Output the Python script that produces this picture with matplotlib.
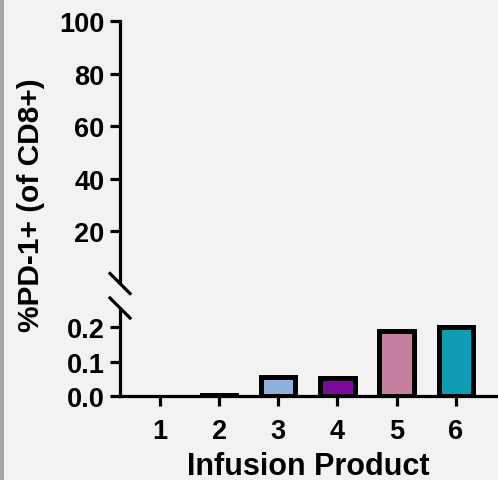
import matplotlib
matplotlib.use("Agg")
import matplotlib.pyplot as plt
from matplotlib.lines import Line2D
from matplotlib.patches import Rectangle

plt.rcParams["font.family"] = "Liberation Sans"
plt.rcParams["font.weight"] = "bold"

products = [1, 2, 3, 4, 5, 6]
pd1_pct = [0.0, 0.004, 0.056, 0.051, 0.19, 0.20]
bar_colors = ["#9a9a9a", "#5b5b5b", "#8fb0d8", "#7b0a9a", "#c47e9e", "#0e9bb3"]
upper_ticks = [20, 40, 60, 80, 100]
lower_ticks = [0.0, 0.1, 0.2]

W, H = 498, 481
fig = plt.figure(figsize=(W / 100, H / 100), dpi=100, facecolor="#f2f2f2")
fig.patches.append(Rectangle((0, 0), 4 / W, 1, transform=fig.transFigure,
                             facecolor="#a6a6a6", edgecolor="none"))

left = 120 / W
ax_top = fig.add_axes([left, 1 - 284 / H, 1 - left, (284 - 22) / H])
ax_bot = fig.add_axes([left, 1 - 397 / H, 1 - left, (397 - 311) / H])

# all values sit below the break, so the bars only show on the lower panel
lw_edge = [0 if v == 0 else 3.6 for v in pd1_pct]
ax_bot.bar(products, pd1_pct, width=0.58, color=bar_colors,
           edgecolor="black", linewidth=lw_edge, zorder=3)

for ax in (ax_top, ax_bot):
    ax.set_facecolor("none")
    ax.set_xlim(0.324, 6.715)
    for s in ("top", "right"):
        ax.spines[s].set_visible(False)
    for s in ("left", "bottom"):
        ax.spines[s].set_linewidth(2.3)
    ax.tick_params(width=2.3, length=7.5, labelsize=19.5, pad=3.5)

ax_top.set_ylim(0.3, 100)
ax_top.set_yticks(upper_ticks)
ax_top.set_yticklabels([str(t) for t in upper_ticks])
ax_top.spines["bottom"].set_visible(False)
ax_top.tick_params(axis="x", bottom=False, labelbottom=False)

ax_bot.set_ylim(0, 0.25)
ax_bot.set_yticks(lower_ticks)
ax_bot.set_yticklabels([f"{t:.1f}" for t in lower_ticks])
ax_bot.set_xticks(products)
ax_bot.set_xticklabels([str(p) for p in products])
ax_bot.tick_params(axis="x", pad=8.5)

# break marks on the y axis
for yc in (284.5, 309):
    fig.lines.append(Line2D([110 / W, 130 / W], [1 - (yc - 10) / H, 1 - (yc + 10) / H],
                            transform=fig.transFigure, color="black", lw=2.3))

fig.text(31 / W, 1 - 205 / H, "%PD-1+ (of CD8+)", rotation=90,
         ha="center", va="center", fontsize=21.5, fontweight="bold")
fig.text(308 / W, 1 - 467 / H, "Infusion Product",
         ha="center", va="center", fontsize=22, fontweight="bold")

fig.savefig("out.png", dpi=100, facecolor=fig.get_facecolor())
